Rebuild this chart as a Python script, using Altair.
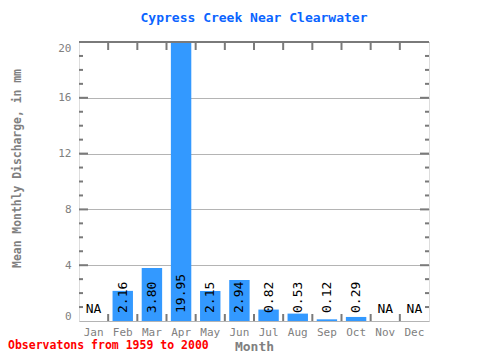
import altair as alt
import pandas as pd

months = ["Jan", "Feb", "Mar", "Apr", "May", "Jun", "Jul", "Aug", "Sep", "Oct", "Nov", "Dec"]
values = [None, 2.16, 3.80, 19.95, 2.15, 2.94, 0.82, 0.53, 0.12, 0.29, None, None]
y_tick_labels = [0, 4, 8, 12, 16, 20]
y_major = [4, 8, 12, 16]
y_minor = [1, 2, 3, 5, 6, 7, 9, 10, 11, 13, 14, 15, 17, 18, 19]
x_bounds = list(range(1, len(months)))

title_text = "Cypress Creek Near Clearwater"
y_title = "Mean Monthly Discharge, in mm"
x_title = "Month"
footer = "Observatons from 1959 to 2000"

FONT = "DejaVu Sans Mono"
GRAY = "#7a7a7a"
LABEL_GRAY = "#808080"

df = pd.DataFrame({"Month": months, "value": values})
df["label"] = [("NA" if v is None else f"{v:.2f}") for v in values]

W, H = 350, 279

yscale = alt.Scale(domain=[0, 20], nice=False, zero=True)
band = alt.Scale(domain=months, paddingInner=0.3, paddingOuter=0.15)

x_axis = alt.Axis(
    title=x_title, labelAngle=0, ticks=False, tickSize=0, domain=False,
    labelPadding=5, labelFont=FONT, labelFontSize=11, labelColor=LABEL_GRAY,
    titleFont=FONT, titleFontSize=13, titleFontWeight="bold", titleColor=LABEL_GRAY,
    titleY=29, titleBaseline="alphabetic",
)
y_axis = alt.Axis(
    title=y_title, values=y_tick_labels, grid=True, gridColor="#b4b4b4", gridWidth=1,
    ticks=False, tickSize=0, domain=False, labelFlush=True, labelPadding=8,
    labelFont=FONT, labelFontSize=11, labelColor=LABEL_GRAY,
    titleFont=FONT, titleFontSize=11.4, titleFontWeight="bold", titleColor=LABEL_GRAY,
    titleAngle=270, titleX=-62, titleY=126, titleAlign="center", titleBaseline="middle",
)

yq = alt.Y("value:Q", scale=yscale, axis=y_axis)

bars = alt.Chart(df).mark_bar(color="#3399FF").encode(
    x=alt.X("Month:N", sort=months, scale=band, axis=x_axis),
    y=yq,
)

xl = alt.X("Month:N", sort=months, scale=band, axis=None)

val_labels = alt.Chart(df).transform_filter("datum.value != null").mark_text(
    angle=270, align="left", baseline="middle", font=FONT, fontSize=13, color="black"
).encode(x=xl, y=alt.value(271), text="label:N")

na_labels = alt.Chart(df).transform_filter("datum.value == null").mark_text(
    align="center", baseline="alphabetic", font=FONT, fontSize=13, color="black"
).encode(x=xl, y=alt.value(271), text="label:N")

minor_df = pd.DataFrame({"value": y_minor})
major_df = pd.DataFrame({"value": y_major})
bounds_df = pd.DataFrame({"b": x_bounds})

xb = alt.X("b:Q", scale=alt.Scale(domain=[0, len(months)], nice=False, zero=True), axis=None)

tick_style = dict(color=GRAY, strokeWidth=2)
ticks = [
    alt.Chart(minor_df).mark_rule(**tick_style).encode(y=yq, x=alt.value(0), x2=alt.value(4)),
    alt.Chart(minor_df).mark_rule(**tick_style).encode(y=yq, x=alt.value(W - 4), x2=alt.value(W)),
    alt.Chart(major_df).mark_rule(**tick_style).encode(y=yq, x=alt.value(0), x2=alt.value(9)),
    alt.Chart(major_df).mark_rule(**tick_style).encode(y=yq, x=alt.value(W - 9), x2=alt.value(W)),
    alt.Chart(bounds_df).mark_rule(**tick_style).encode(x=xb, y=alt.value(0), y2=alt.value(8)),
    alt.Chart(bounds_df).mark_rule(**tick_style).encode(x=xb, y=alt.value(H - 7), y2=alt.value(H)),
]

texts_df = pd.DataFrame({"title": [title_text], "footer": [footer]})

top_frame = alt.Chart(texts_df).mark_rule(**tick_style).encode(
    x=alt.value(0), x2=alt.value(W), y=alt.value(0)
)

title_mark = alt.Chart(texts_df).mark_text(
    align="center", baseline="alphabetic", font=FONT, fontSize=13, fontWeight="bold", color="#0A64FF"
).encode(x=alt.value(W / 2), y=alt.value(-20), text="title:N")

foot = alt.Chart(texts_df).mark_text(
    align="left", baseline="alphabetic", font=FONT, fontSize=11.5, fontWeight="bold", color="#FF0000"
).encode(x=alt.value(-71), y=alt.value(307), text="footer:N")

chart = alt.layer(bars, *ticks, top_frame, val_labels, na_labels, title_mark, foot).resolve_scale(
    x="independent"
).properties(
    width=W, height=H,
    autosize=alt.AutoSizeParams(type="none"),
    padding={"left": 71, "top": 34, "right": 43, "bottom": 31},
).configure_view(stroke=GRAY, strokeWidth=2).configure(background="white")

chart.save("out.html", embed_options={"renderer": "svg", "actions": False})
